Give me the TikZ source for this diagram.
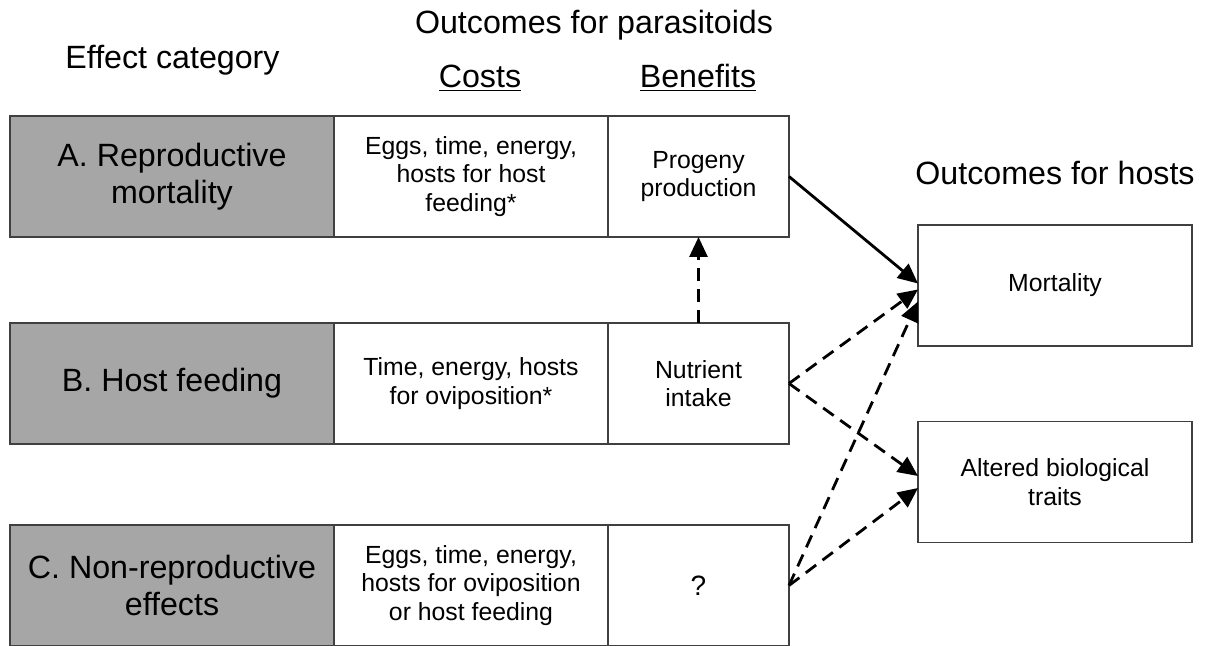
\documentclass[tikz,border=0pt]{standalone}
\usepackage{fontspec}
\setmainfont{Liberation Sans}
\usetikzlibrary{arrows.meta,positioning}
\definecolor{catgray}{RGB}{166,166,166}
\definecolor{edgegray}{RGB}{64,64,64}

\begin{document}
\begin{tikzpicture}[x=0.5pt,y=-0.5pt,line cap=round,
    bigtext/.style={font=\fontsize{16.1}{18.5}\selectfont,align=center},
    smalltext/.style={font=\fontsize{12.4}{14.2}\selectfont,align=center},
    cell/.style={draw=edgegray,line width=0.7pt,inner sep=0pt,outer sep=0pt,minimum height=60.5pt},
    catcell/.style={cell,bigtext,fill=catgray,minimum width=162pt},
    costcell/.style={cell,smalltext,minimum width=137pt},
    bencell/.style={cell,smalltext,minimum width=90.5pt},
    hostcell/.style={cell,smalltext,minimum width=137pt},
    flow/.style={line width=1.4pt,line cap=butt,-{Triangle[length=10pt,width=9pt]}},
    maybe/.style={flow,dash pattern=on 6.5pt off 4pt}]
    \useasboundingbox (0,0) rectangle (1207,646);
    % headings
    \node[bigtext] (hdcat) at (172.5,60) {Effect category};
    \node[bigtext] (hdpara) at (594,25) {Outcomes for parasitoids};
    \node[bigtext] (hdcost) at (480,78) {\underline{Costs}};
    \node[bigtext] (hdben) at (698,78) {\underline{Benefits}};
    \node[bigtext] (hdhost) at (1055,173) {Outcomes for hosts};
    % one row per effect category
    \foreach \n/\y/\cat/\cost/\ben in {A/176.5/{A. Reproductive\\mortality}/{Eggs, time, energy,\\hosts for host\\feeding*}/{Progeny\\production},
        B/383.5/{B. Host feeding}/{Time, energy, hosts\\for oviposition*}/{Nutrient\\intake},
        C/585.5/{C. Non-reproductive\\effects}/{Eggs, time, energy,\\hosts for oviposition\\or host feeding}/{\fontsize{14}{16}\selectfont ?}}{
      \node[catcell] (cat\n) at (172,\y) {\cat};
      \node[costcell] (cost\n) at (471,\y) {\cost};
      \node[bencell] (ben\n) at (698.5,\y) {\ben};
    }
    % host outcomes
    \node[hostcell] (mort) at (1055,285.5) {Mortality};
    \node[hostcell] (alt) at (1055,482) {Altered biological\\traits};
    % links
    \draw[flow] (benA.east) -- ([yshift=1pt]mort.west);
    \draw[maybe] (benB.north) -- (benA.south);
    \draw[maybe] (benB.east) -- ([yshift=-2pt]mort.west);
    \draw[maybe] (benB.east) -- ([yshift=3pt]alt.west);
    \draw[maybe] (benC.east) -- ([yshift=-8pt]mort.west);
    \draw[maybe] (benC.east) -- ([yshift=-3pt]alt.west);
\end{tikzpicture}
\end{document}
